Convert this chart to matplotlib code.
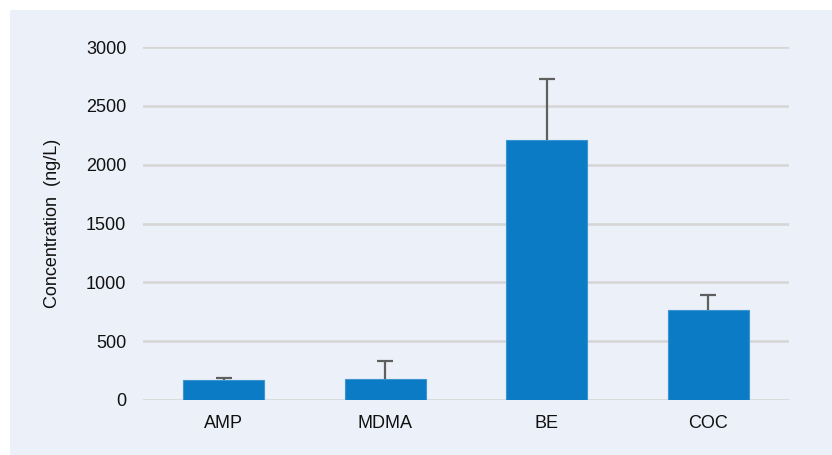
import matplotlib.pyplot as plt
from matplotlib.patches import Rectangle

# values
compounds = ['AMP', 'MDMA', 'BE', 'COC']
conc_mean = [170, 178, 2207, 765]
conc_err = [18, 156, 521, 127]
yticks = [0, 500, 1000, 1500, 2000, 2500, 3000]

plt.rcParams['font.family'] = ['Liberation Sans', 'DejaVu Sans']

W, H = 832, 455
fig = plt.figure(figsize=(W / 100, H / 100), dpi=100, facecolor='white')
# light panel behind the chart
fig.patches.append(Rectangle((10 / W, 0), 1, 1 - 10 / H, transform=fig.transFigure,
                             facecolor='#ECF0F8', edgecolor='none', zorder=-1))

ax = fig.add_axes([143 / W, 1 - 400 / H, (789 - 143) / W, (400 - 47) / H])
ax.set_facecolor('none')

x = range(len(compounds))
ax.bar(x, conc_mean, width=0.5, color='#0A7BC4', edgecolor='#3A95D0', linewidth=0.8, zorder=3)
eb = ax.errorbar(x, conc_mean, yerr=[[0] * len(conc_err), conc_err], fmt='none',
                 ecolor='#5F5F5F', elinewidth=1.6, capsize=6, capthick=1.6, zorder=4)
# only the upper cap is drawn in the original
eb[1][0].set_visible(False)

ax.set_xlim(-0.5, len(compounds) - 0.5)
ax.set_ylim(0, 3000)
ax.set_yticks(yticks)
ax.set_xticks(list(x))
ax.set_xticklabels(compounds)
ax.yaxis.grid(True, color='#D5D5D5', linewidth=1.8)
ax.set_axisbelow(True)
ax.tick_params(axis='both', length=0, labelsize=13, colors='#111111')
ax.tick_params(axis='y', pad=12)
ax.tick_params(axis='x', pad=11)
for s in ax.spines.values():
    s.set_visible(False)

ax.set_ylabel('Concentration  (ng/L)', fontsize=13, color='#111111', labelpad=18)

fig.savefig('out.png', dpi=100, facecolor=fig.get_facecolor())
